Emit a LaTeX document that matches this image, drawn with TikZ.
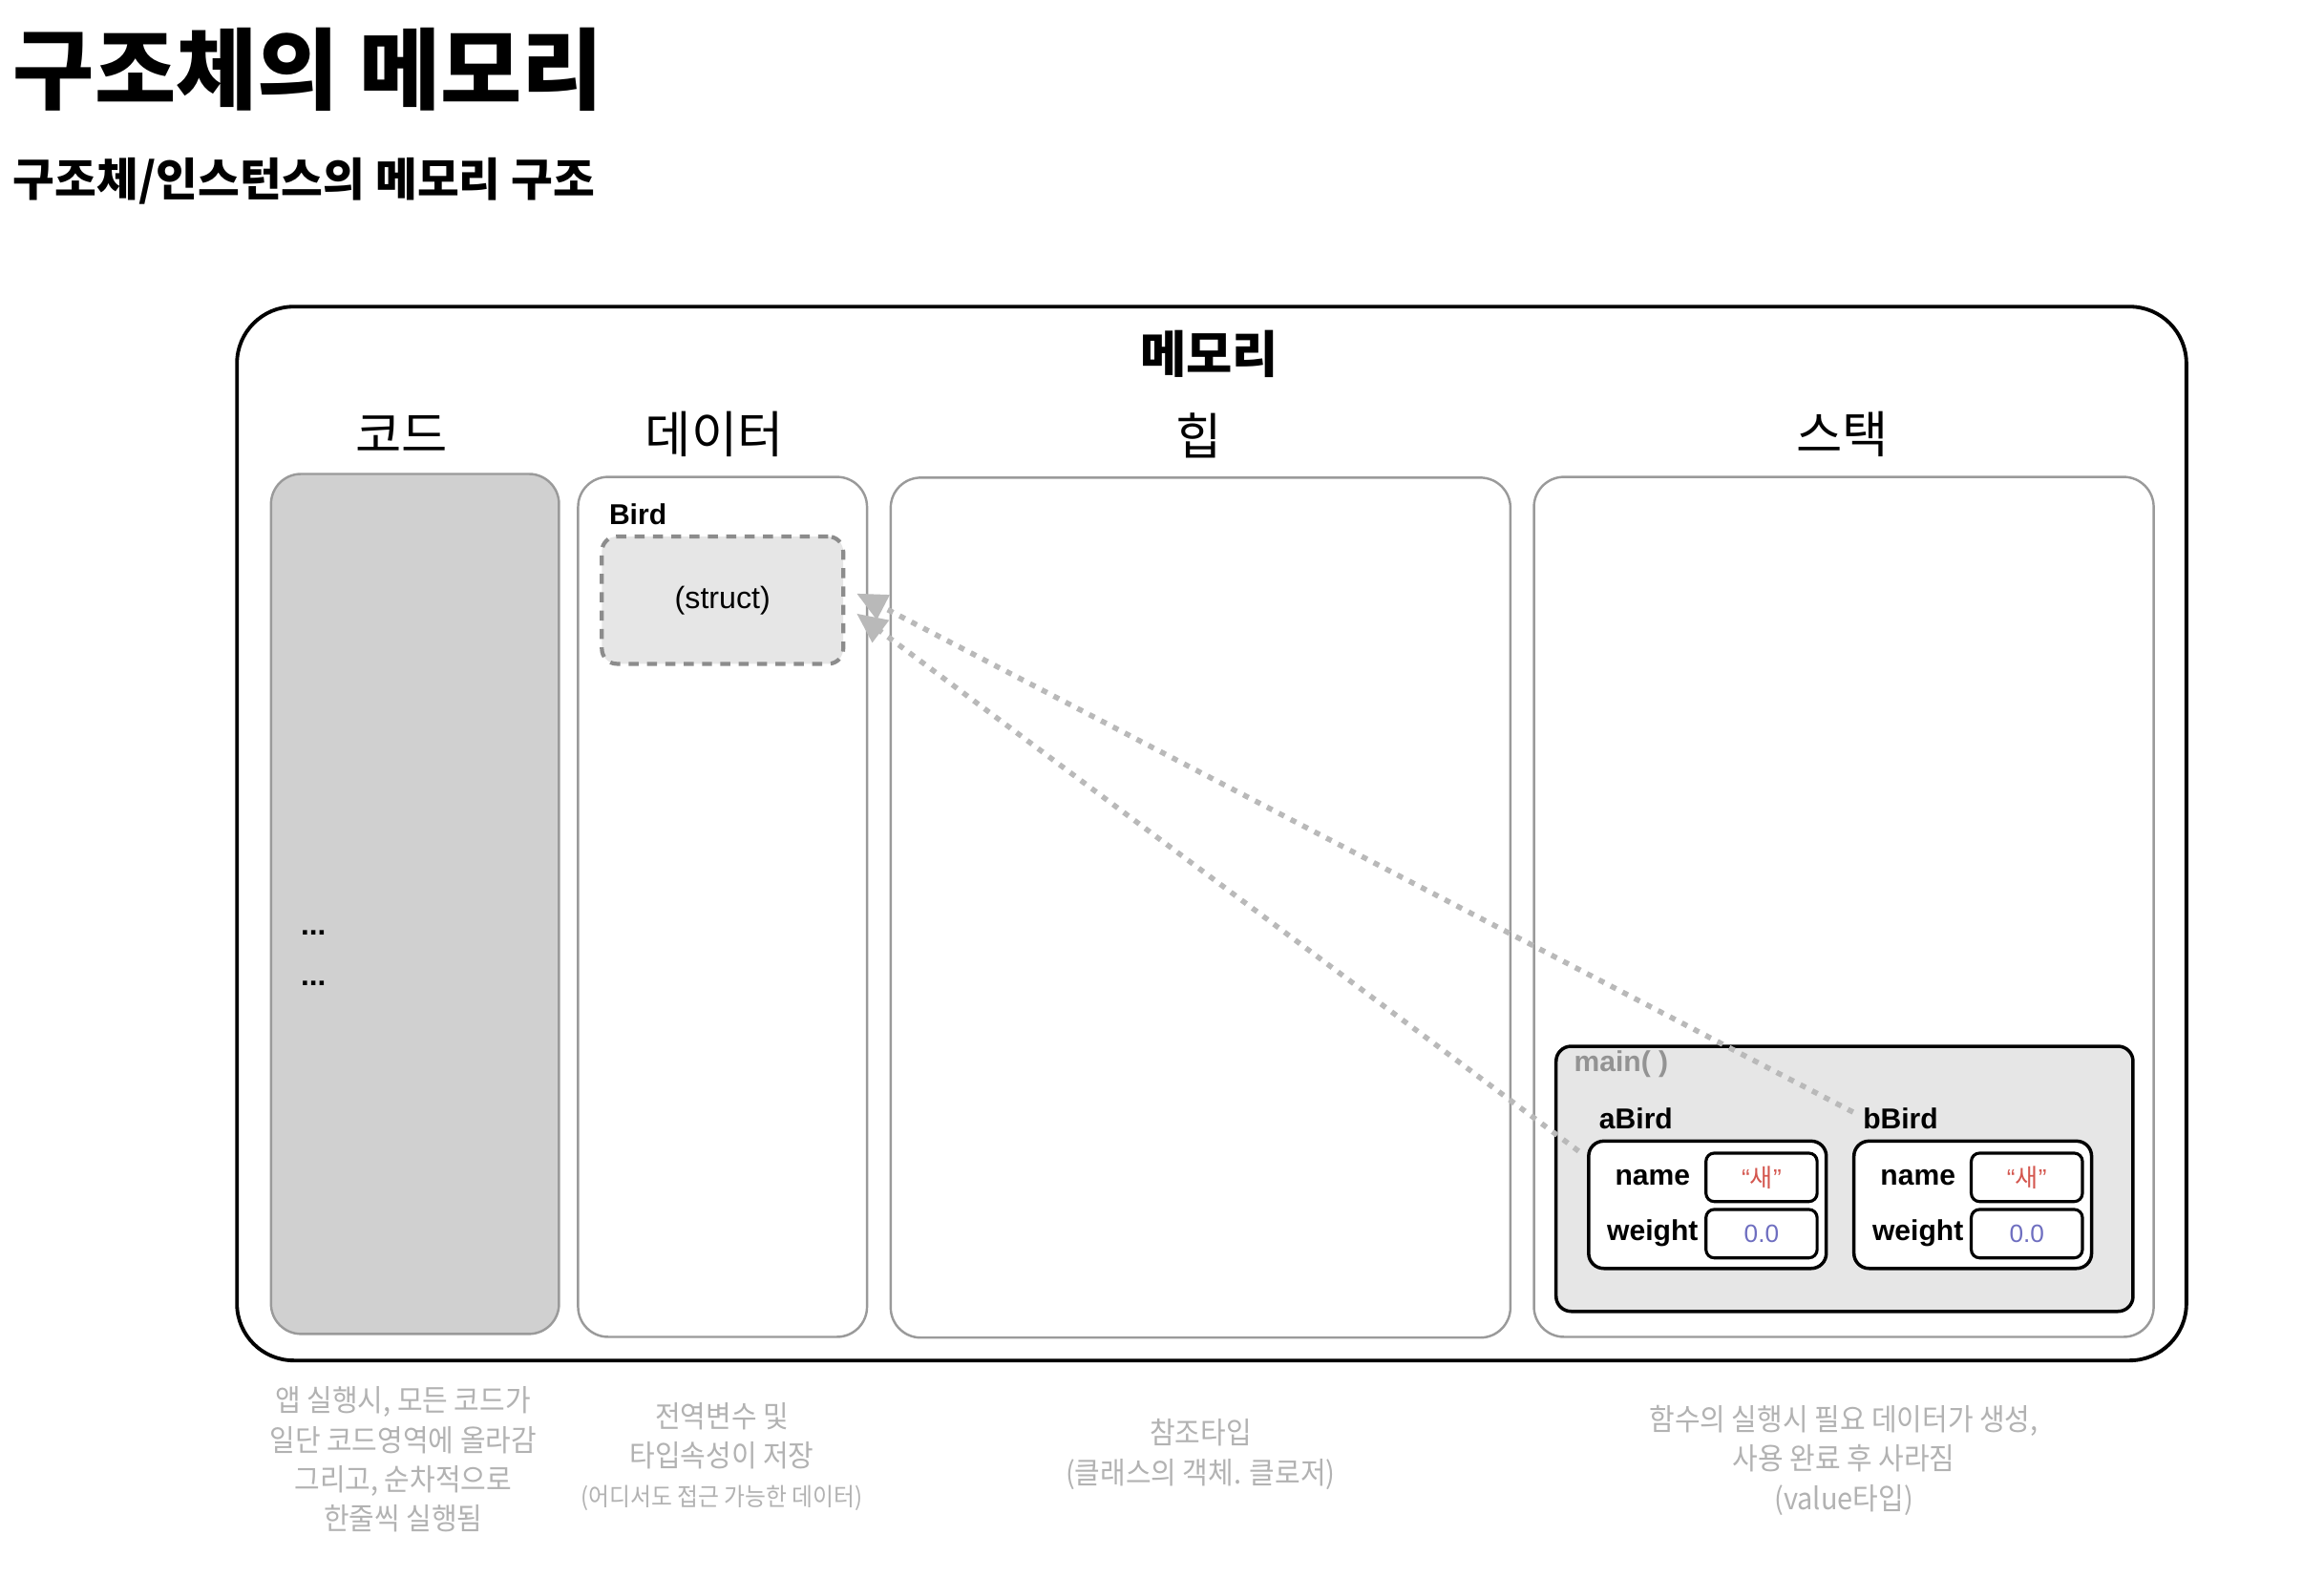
\documentclass[tikz,border=0pt]{standalone}
\usepackage{fontspec}
\setmainfont{Liberation Sans}
\newfontfamily\kr{Noto Sans CJK KR}
\newfontfamily\krc[FakeStretch=0.92]{Noto Sans CJK KR}
\usetikzlibrary{arrows.meta}
\definecolor{codegray}{HTML}{D0D0D0}
\definecolor{framegray}{HTML}{E6E6E6}
\definecolor{linegray}{HTML}{9A9A9A}
\definecolor{notegray}{HTML}{B2B2B2}
\definecolor{valred}{HTML}{D4574F}
\definecolor{valblue}{HTML}{6E6EC0}
\begin{document}
\begin{tikzpicture}[x=0.0156cm, y=-0.0156cm,
  every node/.style={inner sep=0pt, outer sep=0pt},
  area/.style={draw=linegray, line width=0.7pt, rounded corners=9pt, minimum height=9.05cm},
  header/.style={font=\kr\fontsize{15}{18}\selectfont},
  note/.style={text=notegray, align=center, font=\krc\fontsize{9}{11.8}\selectfont},
  varname/.style={anchor=west, font=\bfseries\fontsize{8.6}{10}\selectfont},
  field/.style={anchor=base, font=\bfseries\fontsize{8.6}{10}\selectfont},
  objbox/.style={draw, line width=1pt, rounded corners=4.5pt, fill=white, minimum width=2.5cm, minimum height=1.34cm},
  valbox/.style={draw, line width=0.9pt, rounded corners=2.5pt, fill=white, minimum width=1.17cm, minimum height=0.51cm, font=\fontsize{7.5}{9}\selectfont},
  ptr/.style={draw=gray!55, line width=1.6pt, dash pattern=on 1.8pt off 2.2pt, -{Triangle[length=9pt,width=8pt]}}]
  \useasboundingbox (0,0) rectangle (1568,1064.2);

  % Titles
  \node[anchor=west, font=\kr\bfseries\fontsize{26.5}{30}\selectfont] (title) at (9,47) {구조체의 메모리};
  \node[anchor=west, font=\kr\bfseries\fontsize{13.6}{16}\selectfont] (subtitle) at (9,122) {구조체/인스턴스의 메모리 구조};

  % Memory and its areas
  \node[draw, line width=1.1pt, rounded corners=17pt, minimum width=20.51cm, minimum height=11.09cm] (memory) at (817.5,562.5) {};
  \node[font=\kr\bfseries\fontsize{15}{18}\selectfont] (memTitle) at (816,239) {메모리};
  \node[area, fill=codegray, minimum width=3.03cm] (code) at (280,610) {};
  \node[area, minimum width=3.04cm] (data) at (487.5,612) {};
  \node[area, minimum width=6.52cm] (heap) at (810,612.5) {};
  \node[area, minimum width=6.52cm] (stack) at (1244,612) {};
  \node[header] (codeTitle) at (271,293) {코드};
  \node[header] (dataTitle) at (482,293) {데이터};
  \node[header] (heapTitle) at (809,294) {힙};
  \node[header] (stackTitle) at (1243,293) {스택};

  % Code area
  \node[anchor=base west, font=\bfseries\fontsize{9}{10}\selectfont] (dots1) at (203,631) {...};
  \node[anchor=base west, font=\bfseries\fontsize{9}{10}\selectfont] (dots2) at (203,665) {...};

  % Data area
  \node[varname] (birdLbl) at (411,347) {Bird};
  \node[draw=gray!110!black, fill=framegray, line width=1.2pt, dash pattern=on 3pt off 2.5pt, rounded corners=4.5pt,
        minimum width=2.54cm, minimum height=1.34cm, font=\fontsize{9.2}{11}\selectfont] (struct) at (487.5,405) {(struct)};

  % Stack area
  \node[draw, fill=framegray, line width=1pt, rounded corners=4.5pt, minimum width=6.07cm, minimum height=2.79cm] (mainFrame) at (1244.5,795.5) {};
  \node[varname, text=gray!85] (mainLbl) at (1062,718) {main( )};
  \node[varname] (aLbl) at (1079,755) {aBird};
  \node[varname] (bLbl) at (1257,755) {bBird};
  \node[objbox] (aBox) at (1152,813) {};
  \node[objbox] (bBox) at (1331,813) {};
  \node[field] (aName) at (1115,800) {name};
  \node[field] (aWeight) at (1115,837) {weight};
  \node[field] (bName) at (1294,800) {name};
  \node[field] (bWeight) at (1294,837) {weight};
  \node[valbox, text=valred] (aNameVal) at (1188.5,794.5) {“{\kr 새}”};
  \node[valbox, text=valblue] (aWeightVal) at (1188.5,832.5) {0.0};
  \node[valbox, text=valred] (bNameVal) at (1367.5,794.5) {“{\kr 새}”};
  \node[valbox, text=valblue] (bWeightVal) at (1367.5,832.5) {0.0};

  % References to the struct
  \draw[ptr] ([xshift=-3pt,yshift=2pt]bLbl.west) -- ([xshift=4pt,yshift=2pt]struct.east);
  \draw[ptr] ([xshift=-3pt,yshift=-3pt]aBox.north west) -- ([xshift=4pt,yshift=-4pt]struct.east);

  % Notes under the areas
  \node[note] (codeNote) at (272,985) {앱 실행시, 모든 코드가\\일단 코드영역에 올라감\\그리고, 순차적으로\\한줄씩 실행됨};
  \node[note] (dataNote) at (487,983) {전역변수 및\\타입속성이 저장\\{\fontsize{7.4}{9.5}\selectfont(어디서도 접근 가능한 데이터)}};
  \node[note] (heapNote) at (810,981.5) {참조타입\\(클래스의 객체. 클로저)};
  \node[note] (stackNote) at (1244,985.5) {함수의 실행시 필요 데이터가 생성,\\사용 완료 후 사라짐\\(value타입)};
\end{tikzpicture}
\end{document}
